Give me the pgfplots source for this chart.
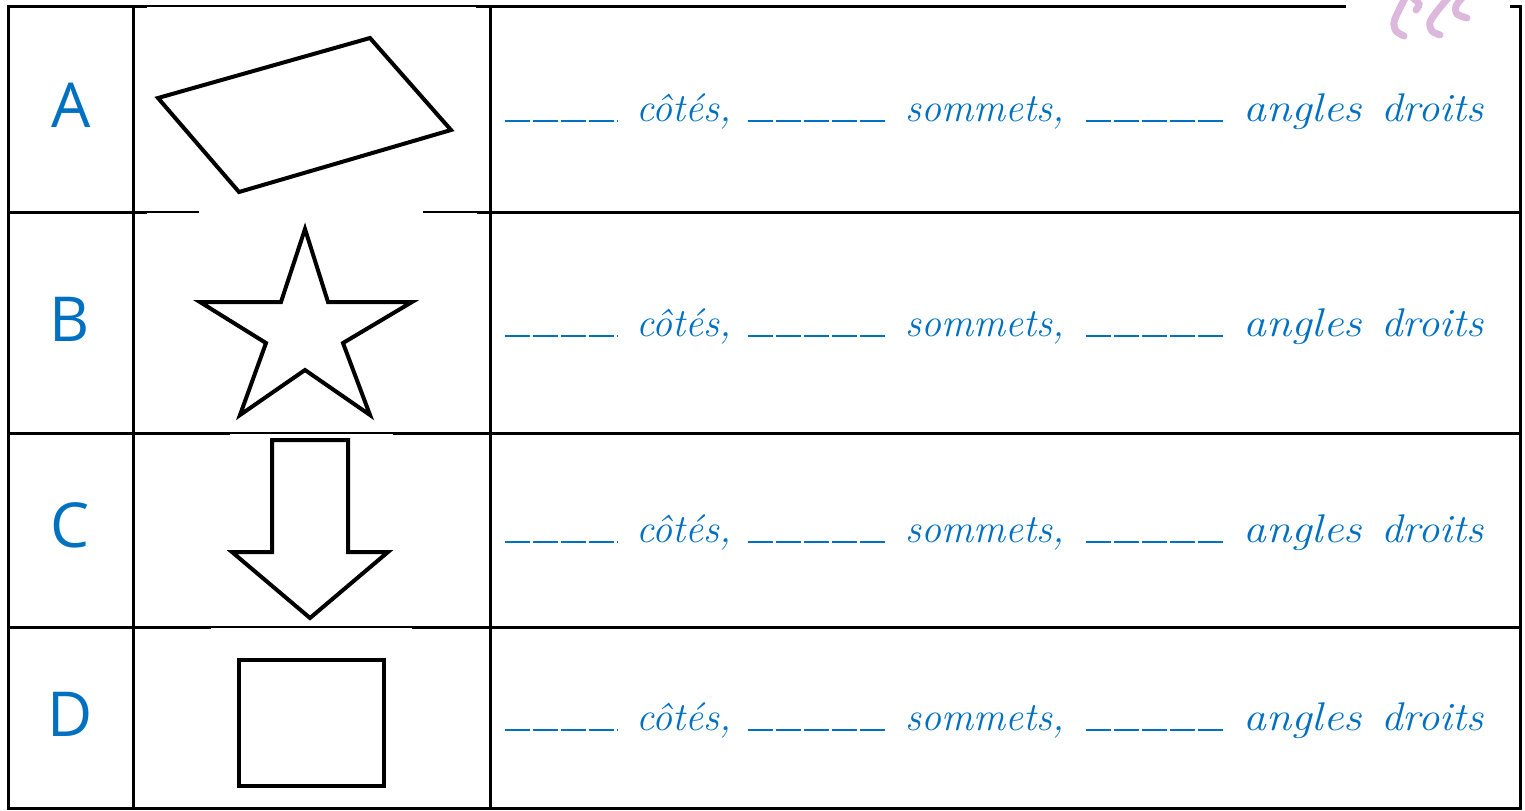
\documentclass[border=0pt]{standalone}
\usepackage{fontspec}
\usepackage{graphicx}
\usepackage{pgfplots}
\pgfplotsset{compat=1.18}
\newfontfamily\letterfont{Open Sans}
\definecolor{myblue}{HTML}{0070C0}
\definecolor{mypink}{HTML}{DCB8DC}
\tikzset{
  blank/.style={myblue, line width=1.3pt, dash pattern=on 12.5pt off 1.5pt},
  lbl/.style={anchor=base, text=myblue, font=\letterfont\fontsize{31}{36}\selectfont},
  wrd/.style={anchor=base west, inner sep=0pt, text=myblue, font=\fontsize{20}{24}\selectfont\itshape},
}
\newcommand{\ang}{\scalebox{1.14}[1]{angles}}
\newcommand{\dro}{\scalebox{1.07}[1]{droits}}
\begin{document}
\begin{tikzpicture}
\begin{axis}[
  scale only axis, width=762.5pt, height=405pt,
  xmin=0, xmax=1525, ymin=0, ymax=810, y dir=reverse,
  hide axis, clip=true,
  every axis plot/.append style={no markers, line join=miter},
]
% ---- table grid
\addplot[black, line width=1.5pt] coordinates {(8,6) (147,6)};
\addplot[black, line width=0.8pt] coordinates {(147,6) (476,6)};
\addplot[black, line width=1.5pt] coordinates {(476,6) (1346,6)};
\addplot[black, line width=1.5pt] coordinates {(1510,6) (1521,6)};
\addplot[black, line width=1.5pt] coordinates {(8,5) (8,810)};
\addplot[black, line width=1.5pt] coordinates {(133,5) (133,810)};
\addplot[black, line width=1.5pt] coordinates {(490,5) (490,810)};
\addplot[black, line width=1.5pt] coordinates {(1520,5) (1520,810)};
% row 1
\addplot[black, line width=1.5pt] coordinates {(8,212) (147,212)};
\addplot[black, line width=0.8pt] coordinates {(147,212) (199,212)};
\addplot[black, line width=0.8pt] coordinates {(423,212) (477,212)};
\addplot[black, line width=1.5pt] coordinates {(477,212) (1521,212)};
% row 2
\addplot[black, line width=1.5pt] coordinates {(8,433) (230,433)};
\addplot[black, line width=0.8pt] coordinates {(230,433) (393,433)};
\addplot[black, line width=1.5pt] coordinates {(393,433) (1521,433)};
% row 3
\addplot[black, line width=1.5pt] coordinates {(8,627) (211,627)};
\addplot[black, line width=0.8pt] coordinates {(211,627) (412,627)};
\addplot[black, line width=1.5pt] coordinates {(412,627) (1521,627)};
% bottom
\addplot[black, line width=1.5pt] coordinates {(8,808.5) (1521,808.5)};
% ---- shapes
\addplot[black, line width=2pt] coordinates {(158,98) (370,38) (451,130) (239,192) (158,98) (370,38)};
\addplot[black, line width=2pt] coordinates {(305,229) (328,302) (412,302) (343,343) (370,415) (305,370) (240,415) (266,343) (200,302) (281,302) (305,229) (328,302)};
\addplot[black, line width=2pt] coordinates {(272,440) (348,440) (348,552) (388,552) (310,618) (232,552) (272,552) (272,440) (348,440)};
\addplot[black, line width=2pt] coordinates {(239,660) (384,660) (384,786) (239,786) (239,660) (384,660)};
% ---- blanks (dashed underlines)
\addplot[blank] coordinates {(505,121) (618,121)};
\addplot[blank] coordinates {(748,121) (887,121)};
\addplot[blank] coordinates {(1086,121) (1225,121)};
\addplot[blank] coordinates {(505,336) (618,336)};
\addplot[blank] coordinates {(748,336) (887,336)};
\addplot[blank] coordinates {(1086,336) (1225,336)};
\addplot[blank] coordinates {(505,542) (618,542)};
\addplot[blank] coordinates {(748,542) (887,542)};
\addplot[blank] coordinates {(1086,542) (1225,542)};
\addplot[blank] coordinates {(505,730) (618,730)};
\addplot[blank] coordinates {(748,730) (887,730)};
\addplot[blank] coordinates {(1086,730) (1225,730)};
% ---- pink decoration
\addplot[mypink, line width=3.5pt, smooth, line cap=round] coordinates {(1405,-2) (1399,10) (1394,22) (1396,31) (1404,36)};
\addplot[mypink, line width=3.5pt, smooth, line cap=round] coordinates {(1413,-2) (1419,4) (1416,10)};
\addplot[mypink, line width=3.5pt, smooth, line cap=round] coordinates {(1448,-2) (1438,10) (1430,22) (1432,31) (1440,35)};
\addplot[mypink, line width=3.5pt, smooth, line cap=round] coordinates {(1462,-2) (1456,6) (1457,14) (1467,18)};
% ---- letters
\node[lbl] at (axis cs:71,127) {A};
\node[lbl] at (axis cs:70,341) {B};
\node[lbl] at (axis cs:70,547) {C};
\node[lbl] at (axis cs:70,736) {D};
% ---- text
\node[wrd] at (axis cs:636,121) {côtés,};
\node[wrd] at (axis cs:905,121) {sommets,};
\node[wrd] at (axis cs:1243,121) {\ang};
\node[wrd] at (axis cs:1381,121) {\dro};
\node[wrd] at (axis cs:636,336) {côtés,};
\node[wrd] at (axis cs:905,336) {sommets,};
\node[wrd] at (axis cs:1243,336) {\ang};
\node[wrd] at (axis cs:1381,336) {\dro};
\node[wrd] at (axis cs:636,542) {côtés,};
\node[wrd] at (axis cs:905,542) {sommets,};
\node[wrd] at (axis cs:1243,542) {\ang};
\node[wrd] at (axis cs:1381,542) {\dro};
\node[wrd] at (axis cs:636,730) {côtés,};
\node[wrd] at (axis cs:905,730) {sommets,};
\node[wrd] at (axis cs:1243,730) {\ang};
\node[wrd] at (axis cs:1381,730) {\dro};
\end{axis}
\pgfresetboundingbox
\path (current axis.south west) rectangle (current axis.north east);
\end{tikzpicture}
\end{document}
